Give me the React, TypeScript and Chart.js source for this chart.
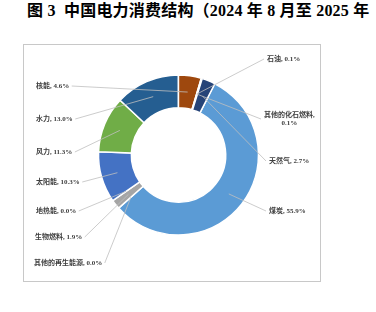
import React, { useEffect, useRef } from "react";
import { Chart, registerables } from "chart.js";

Chart.register(...registerables);

// ---- data (clockwise order as plotted) ----
const categories = [
  "煤炭",
  "其他的再生能源",
  "生物燃料",
  "地热能",
  "太阳能",
  "风力",
  "水力",
  "核能",
  "石油",
  "其他的化石燃料",
  "天然气",
];
const shares = [55.9, 0.0, 1.9, 0.0, 10.3, 11.3, 13.0, 4.6, 0.1, 0.1, 2.7];
const colors = [
  "#5B9BD5",
  "#ED7D31",
  "#A5A5A5",
  "#FFC000",
  "#4472C4",
  "#70AD47",
  "#255E91",
  "#9E480E",
  "#636363",
  "#997300",
  "#264478",
];
// which labels are split over two lines
const twoLineLabels = [false, false, false, false, false, false, false, false, false, true, false];

// label layout: block left edge / vertical centre, relative to donut centre (px); side = where the leader attaches
const labelLayout = [
  { dx: 90.5, dy: 56, side: "L" },
  { dx: -144.5, dy: 108, side: "R" },
  { dx: -143.5, dy: 82, side: "R" },
  { dx: -142.5, dy: 56, side: "R" },
  { dx: -142.5, dy: 27, side: "R" },
  { dx: -142.5, dy: -3, side: "R" },
  { dx: -142.5, dy: -36, side: "R" },
  { dx: -142.5, dy: -69, side: "R" },
  { dx: 88.5, dy: -96, side: "L" },
  { dx: 85.5, dy: -36, side: "L" },
  { dx: 90.5, dy: 6, side: "L" },
];

const TITLE = "图 3  中国电力消费结构（2024 年 8 月至 2025 年";
const FONT = '"Liberation Serif", "Noto Sans CJK SC", serif';

function labelLines(i: number): string[] {
  const pct = shares[i].toFixed(1) + "%";
  if (twoLineLabels[i]) return [categories[i] + ",", pct];
  return [categories[i] + ", " + pct];
}

const leaderLabels = {
  id: "leaderLabels",
  afterDatasetsDraw(chart: any) {
    const ctx = chart.ctx as CanvasRenderingContext2D;
    const meta = chart.getDatasetMeta(0);
    ctx.save();
    ctx.font = `bold 7px ${FONT}`;
    const lh = 8.5;
    meta.data.forEach((arc: any, i: number) => {
      const p = arc.getProps(["x", "y", "startAngle", "endAngle", "innerRadius", "outerRadius"], true);
      const mid = (p.startAngle + p.endAngle) / 2;
      const r = (p.innerRadius + p.outerRadius) / 2;
      const ax = p.x + Math.cos(mid) * r;
      const ay = p.y + Math.sin(mid) * r;
      const L = labelLayout[i];
      const lines = labelLines(i);
      const w = Math.max(...lines.map((t) => ctx.measureText(t).width));
      const left = p.x + L.dx;
      const cy = p.y + L.dy;
      const top = cy - (lh * lines.length) / 2;
      const attX = L.side === "R" ? left + w + 2.5 : left - 3;
      ctx.strokeStyle = "#BFBFBF";
      ctx.lineWidth = 0.8;
      ctx.beginPath();
      ctx.moveTo(attX, cy);
      ctx.lineTo(ax, ay);
      ctx.stroke();
      ctx.fillStyle = "#404040";
      ctx.textAlign = "center";
      ctx.textBaseline = "middle";
      lines.forEach((t, k) => {
        ctx.fillText(t, left + w / 2, top + lh * (k + 0.5));
      });
    });
    ctx.restore();
  },
};

export default function App() {
  const ref = useRef<HTMLCanvasElement | null>(null);
  useEffect(() => {
    if (!ref.current) return;
    const chart = new Chart(ref.current, {
      type: "doughnut",
      data: {
        labels: categories,
        datasets: [
          {
            data: shares,
            backgroundColor: colors,
            borderColor: "#FFFFFF",
            borderWidth: 1.5,
          },
        ],
      },
      options: {
        responsive: false,
        animation: false,
        devicePixelRatio: 1,
        cutout: "59%",
        rotation: 27,
        layout: { padding: { left: 73.75, right: 60.75, top: 29.25, bottom: 45.25 } },
        plugins: {
          legend: { display: false },
          tooltip: { enabled: false },
        },
        events: [],
      },
      plugins: [leaderLabels],
    });
    return () => chart.destroy();
  }, []);

  return (
    <div style={{ position: "absolute", left: 0, top: 0, width: 376, height: 312, background: "#fff", overflow: "hidden" }}>
      <div
        style={{
          position: "absolute",
          left: 27,
          top: 3,
          fontFamily: FONT,
          fontWeight: "bold",
          fontSize: 16,
          lineHeight: "16px",
          letterSpacing: "0.2px",
          whiteSpace: "pre",
          color: "#000",
        }}
      >
        {TITLE}
      </div>
      <div
        style={{
          position: "absolute",
          left: 23,
          top: 44,
          width: 298,
          height: 238,
          boxSizing: "border-box",
          border: "1px solid #C8C8C8",
        }}
      >
        <canvas ref={ref} width={296} height={236} style={{ display: "block", width: 296, height: 236 }} />
      </div>
    </div>
  );
}
